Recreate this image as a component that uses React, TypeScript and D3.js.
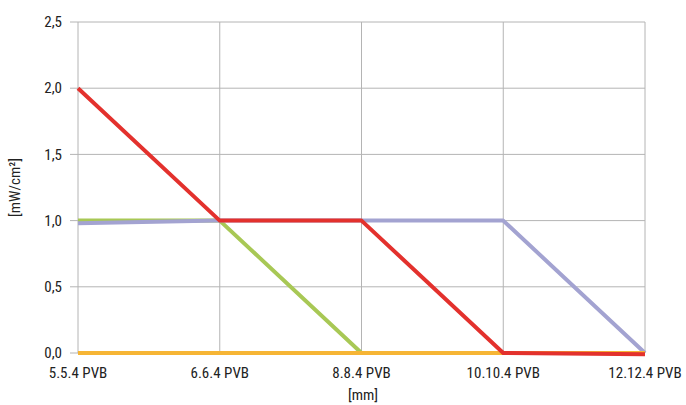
import React from "react";
import * as d3 from "d3";

const categories = ["5.5.4 PVB", "6.6.4 PVB", "8.8.4 PVB", "10.10.4 PVB", "12.12.4 PVB"];
const greenValues = [1.0, 1.0, 0.0, 0.0, 0.0];
const lavenderValues = [0.98, 1.0, 1.0, 1.0, 0.0];
const orangeValues = [0.0, 0.0, 0.0, 0.0, 0.0];
const redValues = [2.0, 1.0, 1.0, 0.0, -0.01];
const yTicks = [0, 0.5, 1.0, 1.5, 2.0, 2.5];

const series = [
  { name: "green", values: greenValues, color: "#a8c855" },
  { name: "lavender", values: lavenderValues, color: "#a3a3d1" },
  { name: "orange", values: orangeValues, color: "#f6b535" },
  { name: "red", values: redValues, color: "#e3312d" },
];

export default function App() {
  const W = 686, H = 405;
  const left = 78, right = 645, top = 22, bottom = 353;
  const x = d3.scalePoint<string>().domain(categories).range([left, right]);
  const y = d3.scaleLinear().domain([0, 2.5]).range([bottom, top]);
  const fmt = (v: number) => v.toFixed(1).replace(".", ",");
  const font = "'Liberation Sans Narrow', 'Roboto Condensed', Roboto, sans-serif";
  const line = d3.line<number>().x((_, i) => x(categories[i])!).y((v) => y(v));
  return (
    <svg width={W} height={H} style={{ position: "absolute", left: 0, top: 0 }} fontFamily={font}>
      <rect width={W} height={H} fill="#fff" />
      {yTicks.map((t) => (
        <g key={t}>
          <line x1={left - 8} x2={right} y1={y(t)} y2={y(t)} stroke="#b4b4b4" strokeWidth={1} />
          <text x={62} y={y(t)} dy="0.35em" textAnchor="end" fontSize={15} fill="#222">{fmt(t)}</text>
        </g>
      ))}
      {categories.map((c) => (
        <g key={c}>
          <line x1={x(c)} x2={x(c)} y1={top} y2={bottom} stroke="#b4b4b4" strokeWidth={1} />
          <text x={x(c)} y={378} textAnchor="middle" fontSize={15} fill="#222">{c}</text>
        </g>
      ))}
      {series.map((s) => (
        <path key={s.name} d={line(s.values)!} fill="none" stroke={s.color} strokeWidth={4} strokeLinejoin="round" />
      ))}
      <text x={363} y={400} textAnchor="middle" fontSize={15} fill="#222">[mm]</text>
      <text transform={`translate(20,${(top + bottom) / 2}) rotate(-90)`} textAnchor="middle" fontSize={15} fill="#222">
        [mW/cm²]
      </text>
    </svg>
  );
}
